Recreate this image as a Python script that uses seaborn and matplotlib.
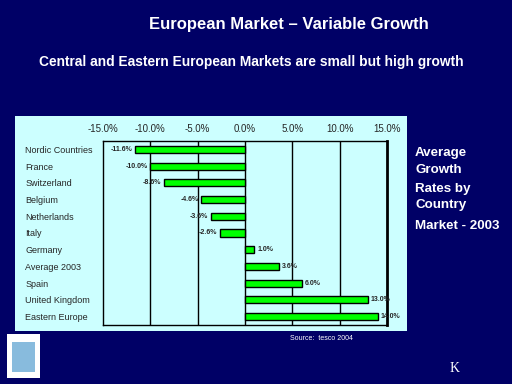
import pandas as pd
import matplotlib.pyplot as plt
import matplotlib.patches as mpatches
import seaborn as sns

countries = ['Nordic Countries', 'France', 'Switzerland', 'Belgium', 'Netherlands', 'Italy',
             'Germany', 'Average 2003', 'Spain', 'United Kingdom', 'Eastern Europe']
growth = [-11.6, -10.0, -8.6, -4.6, -3.6, -2.6, 1.0, 3.6, 6.0, 13.0, 14.0]
xticks = [-15, -10, -5, 0, 5, 10, 15]
side_text = ['Average', 'Growth', 'Rates by', 'Country', 'Market - 2003']

navy = '#000066'
panel = '#CCFFFF'

data = pd.DataFrame({'country': countries, 'growth': growth})

sns.set_style('white')
plt.rcParams['font.family'] = ['Liberation Sans', 'DejaVu Sans']

fig = plt.figure(figsize=(5.12, 3.84), dpi=100)
fig.patch.set_facecolor(navy)

W, H = 512, 384


def fx(x):
    return x / W


def fy(y):
    return 1 - y / H


# light panel behind the chart
fig.patches.append(mpatches.Rectangle((fx(15), fy(331)), fx(407 - 15), (331 - 116) / H,
                                      transform=fig.transFigure, facecolor=panel,
                                      edgecolor='none', zorder=0))

# logo placeholder bottom-left
fig.patches.append(mpatches.Rectangle((fx(7), fy(378)), fx(33), 44 / H,
                                      transform=fig.transFigure, facecolor='white',
                                      edgecolor='none', zorder=0))
fig.patches.append(mpatches.Rectangle((fx(12), fy(372)), fx(23), 30 / H,
                                      transform=fig.transFigure, facecolor='#88BBDD',
                                      edgecolor='none', zorder=1))

ax = fig.add_axes([fx(103), fy(325), fx(387 - 103), (325 - 141) / H])
ax.set_zorder(5)
ax.set_facecolor(panel)

sns.barplot(data=data, x='growth', y='country', orient='h', color='#00FF00',
            edgecolor='black', linewidth=1, width=0.42, saturation=1, ax=ax)

ax.set_xlim(-15, 15)
ax.set_ylim(10.5, -0.5)
ax.set_xticks(xticks)
ax.set_xticklabels([f'{t:.1f}%' for t in xticks], fontsize=7)
ax.xaxis.tick_top()
ax.tick_params(axis='x', length=0, pad=5)
ax.tick_params(axis='y', length=0, pad=56)
for lab in ax.get_yticklabels():
    lab.set_horizontalalignment('left')
    lab.set_fontsize(6.5)
ax.set_xlabel('')
ax.set_ylabel('')

for t in xticks[1:-1]:
    ax.axvline(t, color='black', linewidth=1, zorder=0)

for s in ['top', 'left', 'bottom']:
    ax.spines[s].set_color('black')
    ax.spines[s].set_linewidth(1)
ax.spines['right'].set_color('black')
ax.spines['right'].set_linewidth(2)

for i, v in enumerate(growth):
    if v < 0:
        ax.text(v - 0.3, i, f'{v:.1f}%', ha='right', va='center', fontsize=5, fontweight='bold')
    else:
        ax.text(v + 0.3, i, f'{v:.1f}%', ha='left', va='center', fontsize=5, fontweight='bold')

fig.text(fx(289), fy(24), 'European Market \u2013 Variable Growth', color='white',
         fontsize=12, fontweight='bold', ha='center', va='center')
fig.text(fx(251), fy(62), 'Central and Eastern European Markets are small but high growth',
         color='white', fontsize=9.9, fontweight='bold', ha='center', va='center')

for y, s in zip([153, 170, 189, 205, 226], side_text):
    fig.text(fx(415), fy(y), s, color='white', fontsize=9.6, fontweight='bold',
             ha='left', va='center')

fig.text(fx(321), fy(338), 'Source:  tesco 2004', color='white', fontsize=5,
         ha='center', va='center')
fig.text(fx(455), fy(368), 'K', color='white', fontsize=10, family='Liberation Serif',
         ha='center', va='center')

plt.savefig('out.png', dpi=100, facecolor=fig.get_facecolor())
